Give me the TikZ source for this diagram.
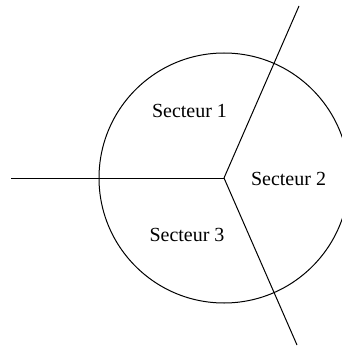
\documentclass[tikz,border=0pt]{standalone}
\usepackage{fontspec}
\setmainfont{Liberation Serif}
\tikzset{
sector/.style={anchor=base,inner sep=0pt,font=\fontsize{20}{24}\selectfont},
border/.style={line width=1pt}
}
\begin{document}
\begin{tikzpicture}[x=1pt,y=-1pt]
\useasboundingbox (0,0) rectangle (341,347);
\coordinate (centre) at (224,178);
\coordinate (west) at (11,178);
\coordinate (north) at (299,6);
\coordinate (south) at (297,345);
\draw[border] (centre) circle[radius=125];
\draw[border] (west) -- (centre);
\draw[border] (centre) -- (north);
\draw[border] (centre) -- (south);
\node[sector] (s1) at (189.5,118) {Secteur 1};
\node[sector] (s2) at (288.5,185) {Secteur 2};
\node[sector] (s3) at (187,241) {Secteur 3};
\end{tikzpicture}
\end{document}
